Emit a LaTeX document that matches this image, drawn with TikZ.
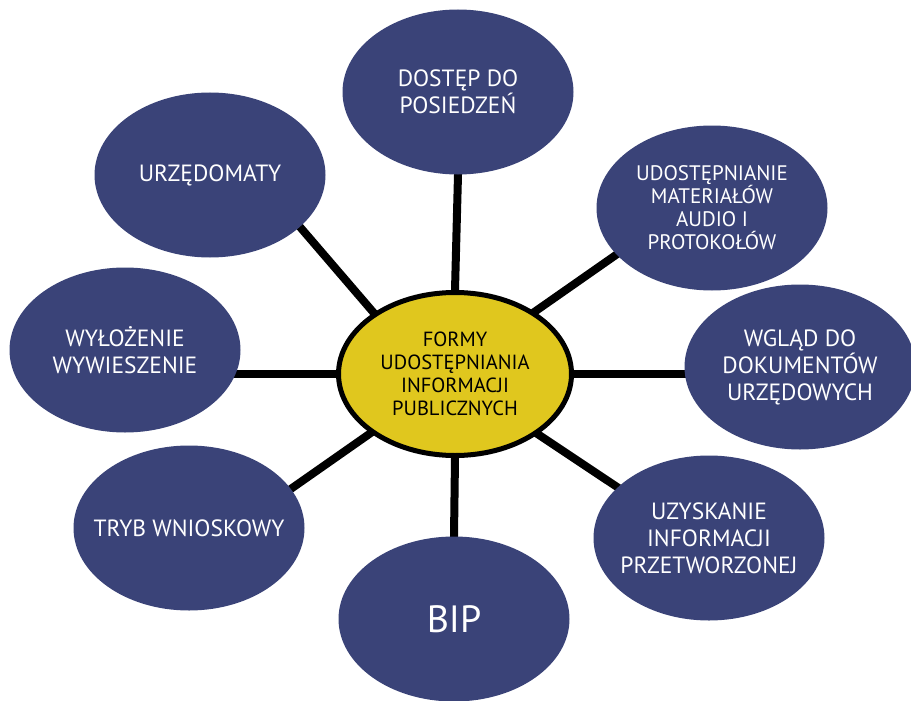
\documentclass[tikz,border=0pt]{standalone}
\usepackage{fontspec}
\setmainfont{PT Sans}
\usetikzlibrary{shapes.geometric,backgrounds,positioning}
\definecolor{topicblue}{RGB}{58,67,120}
\definecolor{hubyellow}{RGB}{224,199,30}

\begin{document}
\begin{tikzpicture}[
            x=1pt, y=-1pt,
            topic/.style={ellipse, fill=topicblue, text=white, minimum width=231pt, minimum height=165pt, inner xsep=-30pt, inner ysep=0pt, align=center, font=\fontsize{23.5}{27}\selectfont},
            hub/.style={ellipse, draw=black, line width=5pt, fill=hubyellow, minimum width=233pt, minimum height=163pt, inner xsep=-20pt, inner ysep=0pt, align=center, font=\fontsize{20.5}{23}\selectfont},
            link/.style={line width=8pt, black, shorten <=-8pt, shorten >=-8pt}
        ]
            \useasboundingbox (0,0) rectangle (911,701);

            % Centre
            \node[hub] (hub) at (455,374) {FORMY\\UDOSTĘPNIANIA\\INFORMACJI\\PUBLICZNYCH};

            % Outer topics
            \node[topic] (dostep) at (458,92) {DOSTĘP DO\\POSIEDZEŃ};
            \node[topic] (urzedomaty) at (210,175) {URZĘDOMATY};
            \node[topic, font=\fontsize{21}{23}\selectfont] (udost) at (712,208) {UDOSTĘPNIANIE\\MATERIAŁÓW\\AUDIO I\\PROTOKOŁÓW};
            \node[topic] (wglad) at (800,367) {WGLĄD DO\\DOKUMENTÓW\\URZĘDOWYCH};
            \node[topic] (uzysk) at (709,538) {UZYSKANIE\\INFORMACJI\\PRZETWORZONEJ};
            \node[topic, font=\fontsize{38}{44}\selectfont] (bip) at (454,619) {BIP};
            \node[topic] (tryb) at (189,528) {TRYB WNIOSKOWY};
            \node[topic] (wylozenie) at (125,350) {WYŁOŻENIE\\WYWIESZENIE};

            % Links
            \begin{pgfonlayer}{background}
                \draw[link] (dostep.south) -- (hub.north);
                \draw[link] (urzedomaty.-30) -- (hub.143);
                \draw[link] (udost.-154) -- (hub.38);
                \draw[link] (hub.east) -- (hub.east -| wglad.west);
                \draw[link] (uzysk.151) -- (hub.-36);
                \draw[link] (bip.north) -- (hub.south);
                \draw[link] (tryb.21) -- (hub.-145);
                \draw[link] (hub.west) -- (hub.west -| wylozenie.east);
            \end{pgfonlayer}
        \end{tikzpicture}
\end{document}
